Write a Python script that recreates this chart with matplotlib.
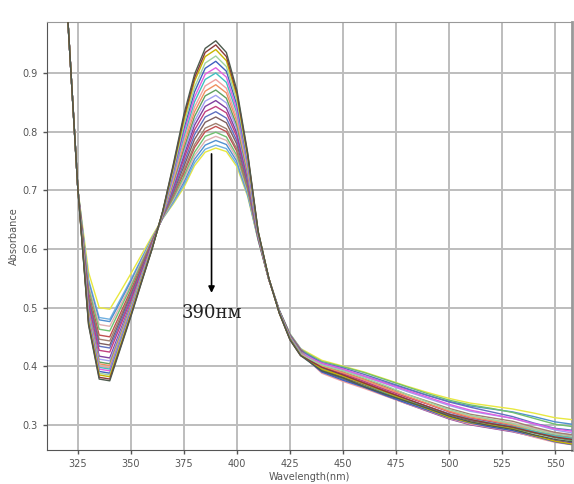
import matplotlib
matplotlib.use("Agg")
import matplotlib.pyplot as plt

# wavelengths (nm)
wl_head = [320, 325]
wl_main = [330, 335, 340, 345, 350, 355, 360, 365, 370, 375, 380, 385, 390,
           395, 400, 405, 410, 415, 420, 425, 430]
wl_tail = [440, 450, 460, 470, 480, 490, 500, 510, 520, 530, 540, 550, 560]

# absorbance x1000, shared by all spectra below 330 nm
head_values = [1005, 700]

# absorbance x1000 for each spectrum, 330-430 nm
main_values = [
    [470, 378, 375, 430, 485, 543, 600, 665, 745, 830, 898, 942, 955, 935, 870, 765, 630, 550, 490, 445, 418],
    [472, 381, 378, 432, 487, 544, 601, 664, 742, 825, 892, 935, 948, 928, 865, 762, 629, 550, 490, 445, 418],
    [475, 385, 382, 435, 489, 546, 601, 664, 740, 820, 886, 928, 940, 921, 860, 759, 629, 550, 490, 446, 419],
    [477, 388, 385, 438, 491, 547, 602, 663, 735, 812, 876, 917, 929, 911, 852, 755, 628, 550, 491, 446, 420],
    [479, 391, 388, 440, 493, 548, 602, 663, 732, 806, 868, 908, 920, 903, 845, 751, 627, 550, 491, 447, 420],
    [482, 395, 392, 443, 495, 549, 603, 662, 728, 799, 859, 898, 909, 893, 837, 746, 626, 549, 491, 447, 421],
    [484, 398, 395, 446, 497, 551, 604, 661, 725, 792, 851, 889, 900, 884, 831, 742, 625, 549, 492, 448, 422],
    [487, 400, 397, 448, 498, 552, 604, 660, 721, 785, 842, 878, 889, 874, 823, 738, 625, 549, 492, 449, 422],
    [489, 404, 401, 451, 501, 553, 605, 660, 717, 779, 834, 869, 880, 866, 817, 734, 624, 549, 492, 449, 423],
    [492, 407, 404, 453, 503, 554, 605, 659, 714, 772, 826, 861, 871, 857, 810, 730, 623, 549, 492, 450, 424],
    [495, 412, 409, 457, 505, 556, 606, 658, 710, 766, 818, 852, 862, 849, 804, 727, 622, 549, 493, 450, 424],
    [499, 417, 414, 461, 508, 558, 607, 658, 707, 760, 811, 843, 853, 840, 797, 723, 622, 549, 493, 451, 425],
    [506, 427, 424, 469, 514, 562, 609, 657, 704, 754, 803, 834, 843, 832, 791, 719, 621, 549, 493, 451, 425],
    [511, 434, 431, 474, 518, 564, 610, 656, 700, 747, 795, 825, 834, 823, 784, 715, 620, 549, 493, 452, 426],
    [515, 439, 436, 479, 522, 567, 611, 656, 697, 741, 787, 816, 825, 815, 778, 712, 619, 549, 494, 452, 427],
    [520, 446, 443, 484, 526, 569, 612, 655, 693, 734, 778, 806, 814, 805, 770, 707, 618, 548, 494, 453, 427],
    [525, 453, 450, 490, 530, 572, 614, 655, 691, 730, 773, 800, 809, 800, 766, 705, 618, 548, 494, 453, 428],
    [533, 463, 460, 498, 536, 576, 615, 654, 687, 724, 765, 792, 799, 791, 759, 701, 617, 548, 494, 454, 428],
    [538, 471, 468, 504, 540, 579, 617, 653, 684, 719, 759, 784, 792, 785, 754, 698, 617, 548, 494, 454, 429],
    [544, 479, 476, 510, 545, 582, 618, 653, 682, 714, 753, 777, 785, 778, 749, 695, 616, 548, 495, 454, 429],
    [548, 483, 480, 514, 548, 584, 619, 652, 679, 709, 747, 770, 777, 771, 744, 692, 615, 548, 495, 455, 430],
    [560, 500, 497, 527, 558, 590, 622, 652, 677, 705, 742, 765, 772, 766, 740, 690, 615, 548, 495, 455, 430],
]

# absorbance x1000 for each spectrum, 440-560 nm
tail_values = [
    [392, 380, 365, 352, 340, 328, 315, 305, 298, 292, 283, 275, 270],
    [398, 385, 371, 357, 344, 331, 318, 309, 302, 296, 287, 279, 274],
    [395, 383, 370, 356, 341, 327, 313, 304, 299, 293, 282, 272, 266],
    [402, 392, 380, 367, 352, 339, 326, 316, 309, 302, 292, 284, 279],
    [390, 376, 364, 350, 337, 325, 312, 303, 296, 290, 281, 271, 265],
    [405, 395, 383, 371, 359, 347, 335, 325, 318, 311, 302, 293, 288],
    [396, 384, 370, 355, 342, 330, 318, 309, 303, 297, 289, 281, 276],
    [388, 374, 362, 349, 336, 324, 311, 301, 295, 289, 279, 270, 265],
    [400, 389, 377, 363, 349, 336, 323, 313, 307, 300, 290, 281, 276],
    [393, 379, 366, 352, 339, 327, 314, 304, 299, 294, 286, 278, 272],
    [403, 393, 382, 370, 357, 345, 333, 323, 317, 311, 301, 291, 285],
    [391, 378, 364, 350, 336, 323, 310, 300, 294, 288, 280, 273, 268],
    [399, 387, 374, 360, 347, 335, 322, 312, 305, 298, 289, 282, 278],
    [406, 397, 386, 374, 362, 350, 339, 330, 322, 314, 303, 294, 290],
    [394, 381, 368, 354, 341, 329, 317, 307, 301, 295, 287, 280, 275],
    [401, 390, 378, 365, 352, 340, 328, 318, 312, 306, 296, 287, 282],
    [397, 385, 372, 358, 344, 331, 318, 308, 302, 296, 288, 283, 279],
    [408, 399, 389, 377, 365, 353, 342, 334, 328, 321, 311, 301, 296],
    [400, 388, 376, 362, 348, 336, 324, 315, 309, 303, 294, 286, 282],
    [404, 394, 383, 372, 361, 350, 340, 332, 327, 322, 314, 305, 300],
    [395, 382, 369, 356, 343, 331, 319, 311, 306, 301, 293, 286, 281],
    [410, 400, 390, 378, 366, 355, 345, 337, 332, 327, 320, 312, 308],
]

colors = ['#4d5a4d', '#8b3a3a', '#c8b400', '#9fd39f', '#4060c0', '#e060e0',
          '#40c0c0', '#f0a0a0', '#f09060', '#60a060', '#a0a0f0', '#8040a0',
          '#c04080', '#6070c0', '#806060', '#a08070', '#c05050', '#70c070',
          '#e0b0b0', '#5090d0', '#70b0e0', '#e8e840']

x_ticks = [325, 350, 375, 400, 425, 450, 475, 500, 525, 550]
y_ticks = [0.3, 0.4, 0.5, 0.6, 0.7, 0.8, 0.9]
annotation_text = "390нм"

fig = plt.figure(figsize=(5.74, 4.84), dpi=100)
ax = fig.add_axes([47 / 574, 34 / 484, 525 / 574, 428 / 484])

wl = wl_head + wl_main + wl_tail
series = list(zip(main_values, tail_values, colors))
for main, tail, c in reversed(series):
    vals = [v / 1000 for v in head_values + main + tail]
    ax.plot(wl, vals, color=c, lw=1.0, zorder=3)

ax.set_xlim(310.4, 558)
ax.set_ylim(0.257, 0.987)
ax.set_xticks(x_ticks)
ax.set_yticks(y_ticks)
ax.set_yticklabels([f"{v:.1f}" for v in y_ticks])
ax.grid(True, color='#bdbdbd', lw=1.4, zorder=0)
ax.tick_params(labelsize=7, colors='#555555', length=3, width=1, direction='out')
for lab in ax.get_xticklabels() + ax.get_yticklabels():
    lab.set_color('#555555')
ax.spines['left'].set_color('#555555')
ax.spines['bottom'].set_color('#555555')
ax.spines['top'].set_color('#999999')
ax.spines['right'].set_color('#999999')
ax.spines['right'].set_linewidth(2)
ax.set_xlabel("Wavelength(nm)", fontsize=7, color='#555555', labelpad=2)
ax.set_ylabel("Absorbance", fontsize=7, color='#555555', labelpad=3)

ax.annotate("", xy=(388, 0.525), xytext=(388, 0.762),
            arrowprops=dict(arrowstyle='-|>', color='black', lw=1.2,
                            mutation_scale=9, shrinkA=0, shrinkB=0), zorder=5)
ax.text(388, 0.491, annotation_text, fontsize=13, family='DejaVu Serif',
        ha='center', va='center', color='#222222', zorder=5)

fig.savefig("out.png", dpi=100)
